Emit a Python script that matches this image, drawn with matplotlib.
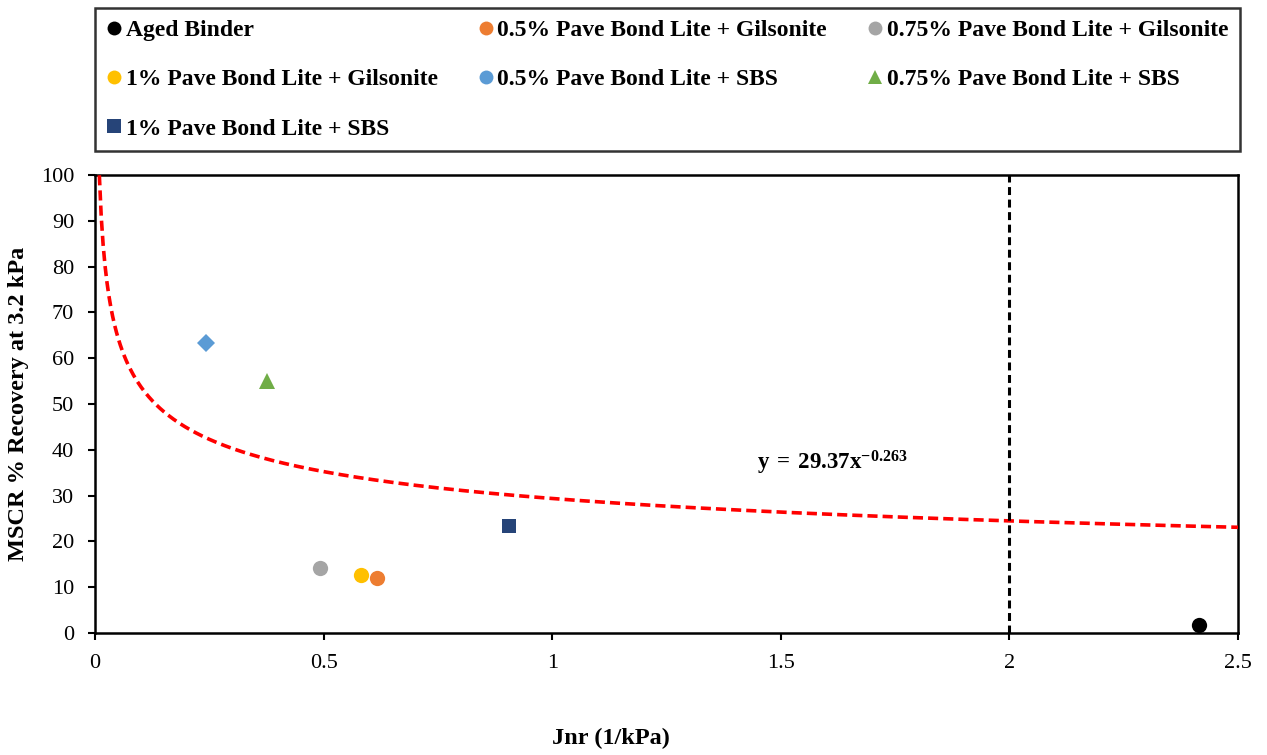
import numpy as np
import matplotlib
matplotlib.use("Agg")
import matplotlib.pyplot as plt
from matplotlib.lines import Line2D

plt.rcParams['font.family'] = ['Liberation Serif', 'DejaVu Serif']
plt.rcParams['mathtext.fontset'] = 'custom'
plt.rcParams['mathtext.rm'] = 'Liberation Serif'
plt.rcParams['mathtext.bf'] = 'Liberation Serif:bold'

series_names = ["Aged Binder",
                "0.5% Pave Bond Lite + Gilsonite",
                "0.75% Pave Bond Lite + Gilsonite",
                "1% Pave Bond Lite + Gilsonite",
                "0.5% Pave Bond Lite + SBS",
                "0.75% Pave Bond Lite + SBS",
                "1% Pave Bond Lite + SBS"]
jnr_values = [2.415, 0.616, 0.492, 0.582, 0.243, 0.377, 0.906]
recovery_values = [1.8, 11.9, 14.2, 12.7, 63.4, 55.0, 23.4]
colors = ["#000000", "#ED7D31", "#A5A5A5", "#FFC000", "#5B9BD5", "#70AD47", "#264478"]
plot_markers = ["o", "o", "o", "o", "D", "^", "s"]
legend_markers = ["o", "o", "o", "o", "o", "^", "s"]

fit_a = 29.37
fit_b = -0.263
jnr_limit = 2.0

W, H = 1267, 755
fig = plt.figure(figsize=(W/100, H/100), dpi=100)
ax = fig.add_axes([95/W, 1-633/H, (1238-95)/W, (633-175)/H])

sizes = {"o": 11, "D": 9, "^": 11.5, "s": 10.5}
for name, x, y, c, m in zip(series_names, jnr_values, recovery_values, colors, plot_markers):
    ax.plot([x], [y], linestyle='none', marker=m, color=c, markersize=sizes[m],
            markeredgewidth=0, zorder=4)

xf = np.linspace(0.0095, 2.5, 600)
ax.plot(xf, fit_a * xf ** fit_b, color='#FF0000', linestyle=(0, (2.8, 1.4)), linewidth=2.6, zorder=3)
ax.axvline(jnr_limit, color='black', linestyle=(0, (2.6, 1.5)), linewidth=2.2, zorder=3)

ax.text(1.448, 37.1, r"$\mathbf{y\,=\,29.37x^{-0.263}}$", fontsize=16.5, va='center', ha='left')

ax.set_xlim(0, 2.5)
ax.set_ylim(0, 100)
ax.set_xticks([0, 0.5, 1, 1.5, 2, 2.5])
ax.set_xticklabels(["0", "0.5", "1", "1.5", "2", "2.5"])
ax.set_yticks(range(0, 101, 10))
ax.tick_params(axis='both', labelsize=16, width=1.5, length=5, direction='out')
ax.tick_params(axis='y', pad=10)
ax.tick_params(axis='x', pad=10)
for s in ax.spines.values():
    s.set_linewidth(1.8)

ax.set_ylabel("MSCR % Recovery at 3.2 kPa", fontsize=17.5, fontweight='bold')
ax.yaxis.set_label_coords(-0.058, 0.5)
fig.text(611/W, 1-738/H, "Jnr (1/kPa)", fontsize=17.5, fontweight='bold', ha='center', va='center')

handles = [Line2D([], [], linestyle='none', marker=m, color=c, markersize=10, markeredgewidth=0)
           for m, c in zip(legend_markers, colors)]
order = [0, 3, 6, 1, 4, 2, 5]
leg = fig.legend([handles[i] for i in order], [series_names[i] for i in order],
                 loc='upper left', bbox_to_anchor=(95/W, 1-8/H, (1240-95)/W, 0.0),
                 mode='expand', ncol=3, prop={'weight': 'bold', 'size': 17},
                 frameon=True, fancybox=False, edgecolor='black', borderaxespad=0,
                 handlelength=0.6, handletextpad=0.2, labelspacing=1.17,
                 borderpad=0.5)
leg.get_frame().set_linewidth(1.8)

fig.savefig("out.png", dpi=100)
